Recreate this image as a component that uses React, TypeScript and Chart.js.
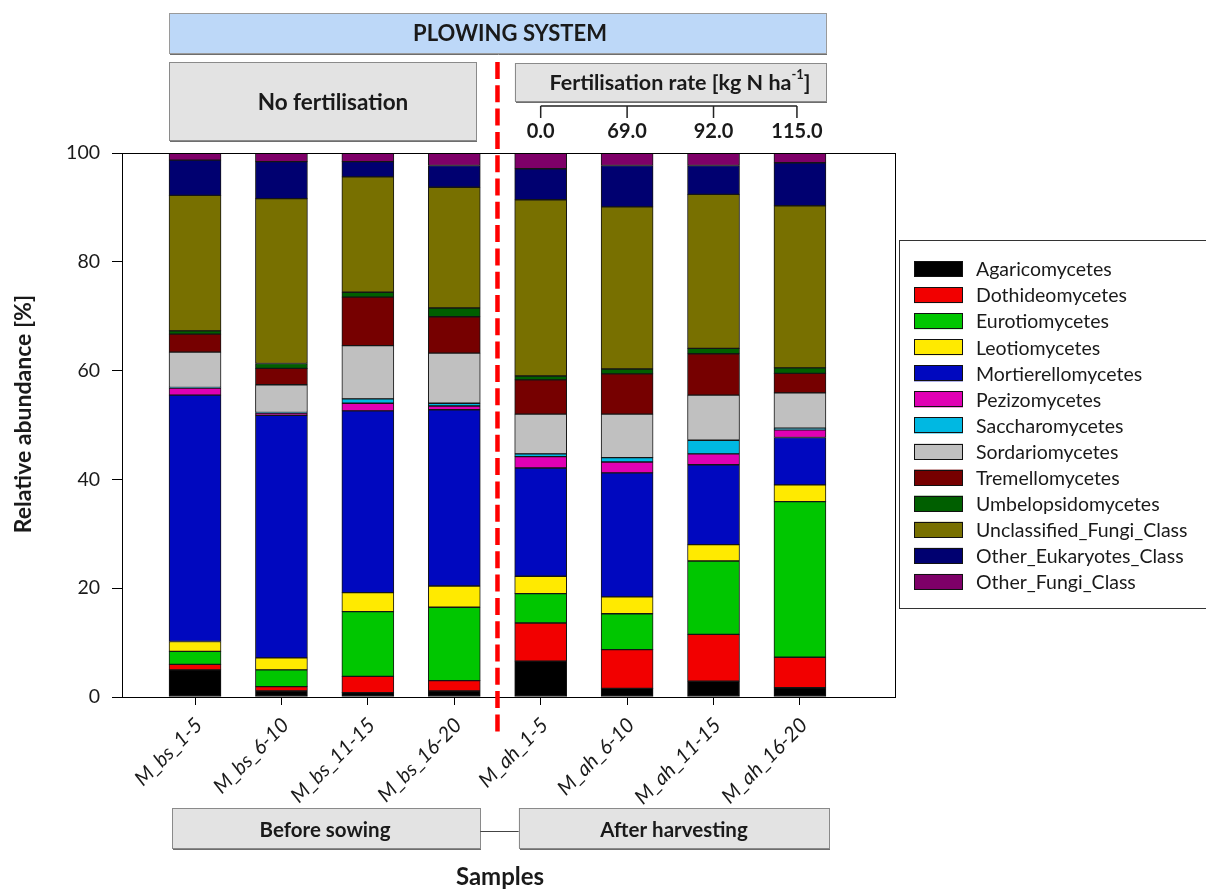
import React, { useEffect, useRef } from "react";
import { Chart, registerables } from "chart.js";
Chart.register(...registerables);

const samples = ["M_bs_1-5", "M_bs_6-10", "M_bs_11-15", "M_bs_16-20", "M_ah_1-5", "M_ah_6-10", "M_ah_11-15", "M_ah_16-20"];
const classNames = [
  "Agaricomycetes", "Dothideomycetes", "Eurotiomycetes", "Leotiomycetes", "Mortierellomycetes",
  "Pezizomycetes", "Saccharomycetes", "Sordariomycetes", "Tremellomycetes", "Umbelopsidomycetes",
  "Unclassified_Fungi_Class", "Other_Eukaryotes_Class", "Other_Fungi_Class",
];
const classColors = [
  "#000000", "#f20000", "#00c600", "#ffea00", "#0008bf",
  "#e000b4", "#00b8e2", "#c0c0c0", "#760000", "#005f00",
  "#787000", "#000070", "#7e0068",
];

const agaricomycetes = [5.0, 1.1, 0.8, 1.1, 6.6, 1.6, 2.9, 1.7];
const dothideomycetes = [1.0, 0.8, 3.0, 1.9, 7.0, 7.1, 8.6, 5.6];
const eurotiomycetes = [2.4, 3.1, 11.9, 13.5, 5.4, 6.6, 13.5, 28.6];
const leotiomycetes = [1.8, 2.2, 3.5, 3.9, 3.2, 3.1, 3.0, 3.1];
const mortierellomycetes = [45.3, 44.6, 33.4, 32.4, 19.9, 22.8, 14.7, 8.7];
const pezizomycetes = [1.3, 0.4, 1.4, 0.7, 2.1, 2.0, 2.0, 1.4];
const saccharomycetes = [0.1, 0.1, 0.8, 0.5, 0.5, 0.8, 2.5, 0.3];
const sordariomycetes = [6.5, 5.1, 9.8, 9.2, 7.3, 8.0, 8.3, 6.5];
const tremellomycetes = [3.3, 3.0, 8.9, 6.7, 6.3, 7.4, 7.6, 3.6];
const umbelopsidomycetes = [0.6, 0.9, 0.9, 1.6, 0.7, 0.9, 1.0, 1.0];
const unclassifiedFungi = [24.9, 30.3, 21.2, 22.2, 32.4, 29.8, 28.3, 29.8];
const otherEukaryotes = [6.5, 6.8, 2.8, 4.0, 5.7, 7.6, 5.3, 7.9];
const otherFungi = [1.3, 1.6, 1.6, 2.3, 2.9, 2.3, 2.3, 1.8];

const seriesValues = [
  agaricomycetes, dothideomycetes, eurotiomycetes, leotiomycetes, mortierellomycetes,
  pezizomycetes, saccharomycetes, sordariomycetes, tremellomycetes, umbelopsidomycetes,
  unclassifiedFungi, otherEukaryotes, otherFungi,
];

const yTicks = [0, 20, 40, 60, 80, 100];
const fertilisationRates = ["0.0", "69.0", "92.0", "115.0"];

const FONT = "Lato, 'Open Sans', sans-serif";
const TEXT = "#1a1a1a";

const annotationPlugin = {
  id: "annotations",
  afterDraw(chart: any) {
    const ctx = chart.ctx as CanvasRenderingContext2D;
    const xs = chart.scales.x;
    const ca = chart.chartArea;
    const px = (v: number) => xs.getPixelForValue(v);
    ctx.save();

    // frame
    ctx.strokeStyle = "#000";
    ctx.lineWidth = 1;
    ctx.strokeRect(Math.round(ca.left) + 0.5, Math.round(ca.top) + 0.5, Math.round(ca.right - ca.left), Math.round(ca.bottom - ca.top));

    const box = (x1: number, y1: number, x2: number, y2: number, fill: string, stroke: string) => {
      ctx.fillStyle = fill;
      ctx.fillRect(x1, y1, x2 - x1, y2 - y1);
      ctx.strokeStyle = stroke;
      ctx.lineWidth = 1;
      ctx.strokeRect(Math.round(x1) + 0.5, Math.round(y1) + 0.5, Math.round(x2 - x1), Math.round(y2 - y1));
      ctx.strokeStyle = "#6e6e6e";
      ctx.beginPath();
      ctx.moveTo(Math.round(x1) + 1, Math.round(y2) + 1.5);
      ctx.lineTo(Math.round(x2) + 1, Math.round(y2) + 1.5);
      ctx.stroke();
    };
    const text = (s: string, x: number, y: number, size: number, weight = "bold", align: CanvasTextAlign = "center") => {
      ctx.fillStyle = TEXT;
      ctx.font = `${weight} ${size}px ${FONT}`;
      ctx.textAlign = align;
      ctx.textBaseline = "middle";
      ctx.fillText(s, x, y);
    };

    const half = 26;
    // top boxes
    box(px(0) - half, 13, px(7) + half, 53, "#bdd8f8", "#9a9a9a");
    text("PLOWING SYSTEM", 510, 34, 22);
    box(px(0) - half, 62, px(3) + 22, 140, "#e3e3e3", "#8a8a8a");
    text("No fertilisation", 333, 103, 22.5);
    box(px(4) - half, 63, px(7) + half, 101, "#e3e3e3", "#8a8a8a");
    // Fertilisation rate with superscript
    ctx.font = `bold 21.5px ${FONT}`;
    const main = "Fertilisation rate [kg N ha";
    const wMain = ctx.measureText(main).width;
    ctx.font = `bold 13px ${FONT}`;
    const wSup = ctx.measureText("-1").width;
    ctx.font = `bold 21.5px ${FONT}`;
    const wEnd = ctx.measureText("]").width;
    const total = wMain + wSup + wEnd;
    let sx = 680 - total / 2;
    text(main, sx, 83, 21.5, "bold", "left");
    sx += wMain;
    text("-1", sx, 75, 13, "bold", "left");
    sx += wSup;
    text("]", sx, 83, 21.5, "bold", "left");

    // bracket
    ctx.strokeStyle = "#222";
    ctx.lineWidth = 1.5;
    ctx.beginPath();
    ctx.moveTo(px(4), 106);
    ctx.lineTo(px(7) - 3, 106);
    for (let i = 0; i < fertilisationRates.length; i++) {
      const bx = i === 3 ? px(4 + i) - 3 : px(4 + i);
      ctx.moveTo(bx, 106);
      ctx.lineTo(bx, 118);
    }
    ctx.stroke();
    fertilisationRates.forEach((r, i) => text(r, i === 3 ? px(4 + i) - 3 : px(4 + i), 132, 20));

    // bottom boxes
    box(px(0) - 23, 808, px(3) + 26, 848, "#e3e3e3", "#8a8a8a");
    text("Before sowing", 325, 830, 20.5);
    box(px(4) - 22, 808, px(7) + 29, 848, "#e3e3e3", "#8a8a8a");
    text("After harvesting", 674, 830, 20.5);
    ctx.strokeStyle = "#444";
    ctx.lineWidth = 1;
    ctx.beginPath();
    ctx.moveTo(px(3) + 26, 831.5);
    ctx.lineTo(px(4) - 22, 831.5);
    ctx.stroke();
    text("Samples", 500, 877, 24);

    // y-axis title
    ctx.save();
    ctx.translate(24, 414);
    ctx.rotate(-Math.PI / 2);
    text("Relative abundance [%]", 0, 0, 23);
    ctx.restore();

    // dashed separator
    ctx.strokeStyle = "#ff0000";
    ctx.lineWidth = 4.5;
    ctx.lineCap = "butt";
    ctx.setLineDash([17, 6.3]);
    ctx.beginPath();
    ctx.moveTo(px(3.5), 62);
    ctx.lineTo(px(3.5), 737);
    ctx.stroke();
    ctx.setLineDash([]);

    // legend
    ctx.strokeStyle = "#333";
    ctx.lineWidth = 1;
    ctx.strokeRect(899.5, 240.5, 340, 368);
    chart.data.datasets.forEach((ds: any, i: number) => {
      const cy = 269 + 26.08 * i;
      ctx.fillStyle = ds.backgroundColor;
      ctx.fillRect(914, cy - 8, 49, 16);
      ctx.strokeStyle = "#111";
      ctx.strokeRect(914.5, Math.round(cy - 8) + 0.5, 48, 15);
      text(ds.label, 976, cy + 1, 19.5, "normal", "left");
    });

    ctx.restore();
  },
};

export default function App() {
  const ref = useRef<HTMLCanvasElement | null>(null);
  useEffect(() => {
    if (!ref.current) return;
    const chart = new Chart(ref.current, {
      type: "bar",
      data: {
        datasets: seriesValues.map((vals, k) => ({
          label: classNames[k],
          data: vals.map((v, i) => ({ x: i, y: v })),
          backgroundColor: classColors[k],
          borderColor: "#151515",
          borderWidth: 1,
          borderSkipped: false,
          barThickness: 52,
        })),
      },
      options: {
        responsive: false,
        animation: false,
        layout: { padding: { top: 153, right: 311, left: 0, bottom: 0 } },
        plugins: { legend: { display: false }, tooltip: { enabled: false }, title: { display: false } },
        scales: {
          x: {
            type: "linear",
            stacked: true,
            offset: false,
            min: -0.845,
            max: 8.1,
            afterBuildTicks: (scale: any) => {
              scale.ticks = samples.map((_, i) => ({ value: i }));
            },
            afterFit: (scale: any) => {
              scale.height = 193;
            },
            ticks: {
              autoSkip: false,
              minRotation: 45,
              maxRotation: 45,
              padding: 8,
              labelOffset: 4,
              color: TEXT,
              font: { family: FONT, size: 20.5, style: "italic" },
              callback: (v: any) => samples[v as number],
            },
            grid: { display: true, offset: false, drawOnChartArea: false, drawTicks: true, tickLength: 8, color: "#000", lineWidth: 1 },
            border: { display: true, color: "#000", width: 1 },
          },
          y: {
            stacked: true,
            min: 0,
            max: 100,
            afterBuildTicks: (scale: any) => {
              scale.ticks = yTicks.map((v) => ({ value: v }));
            },
            afterFit: (scale: any) => {
              scale.width = 122;
            },
            ticks: { padding: 12, color: TEXT, font: { family: FONT, size: 19.5 } },
            grid: { display: true, drawOnChartArea: false, drawTicks: true, tickLength: 10, color: "#000", lineWidth: 1 },
            border: { display: true, color: "#000", width: 1 },
            title: { display: false },
          },
        },
      },
      plugins: [annotationPlugin],
    } as any);
    return () => chart.destroy();
  }, []);
  return (
    <div style={{ position: "absolute", left: 0, top: 0, width: 1206, height: 890, overflow: "hidden", background: "#fff" }}>
      <canvas ref={ref} width={1206} height={890} style={{ display: "block" }} />
    </div>
  );
}
